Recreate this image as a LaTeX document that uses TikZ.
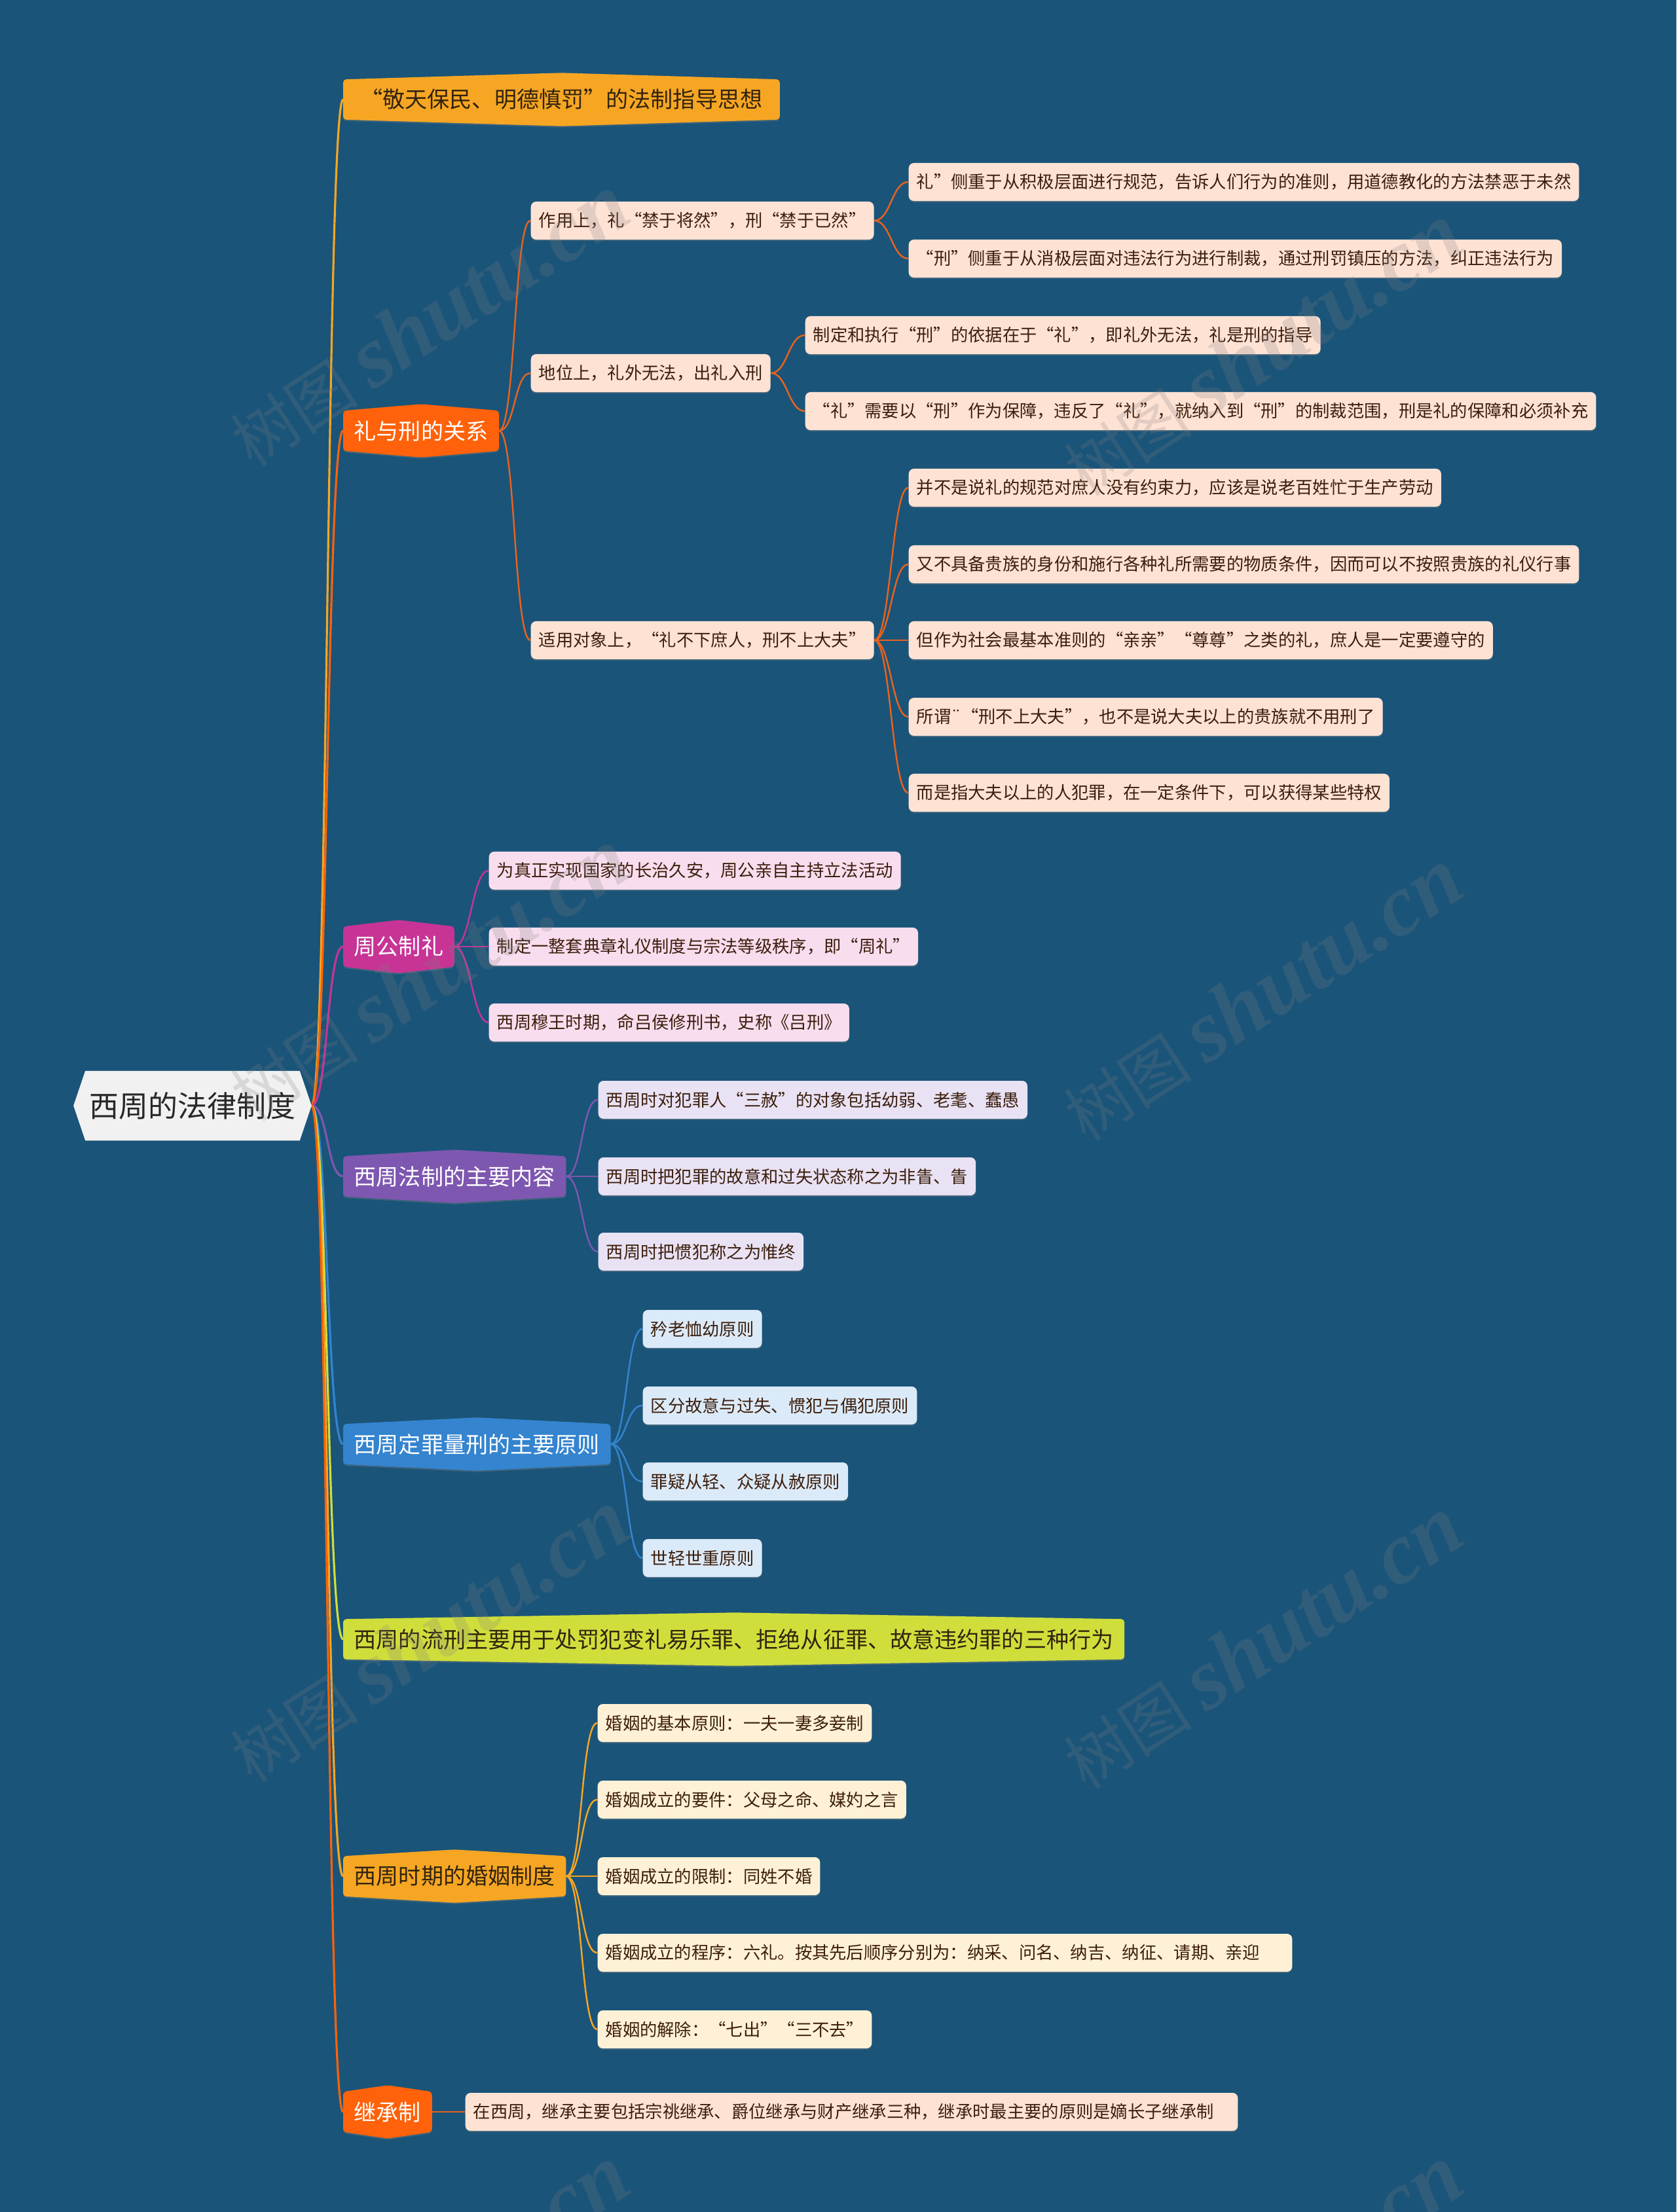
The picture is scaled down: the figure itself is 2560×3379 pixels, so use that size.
\documentclass[tikz,border=0pt]{standalone}
\usepackage{fontspec}
\setmainfont{Noto Sans CJK SC}
\newfontfamily\wmlatin{Liberation Serif}
\usetikzlibrary{calc}
\usetikzlibrary{positioning}
\usetikzlibrary{backgrounds}
\usetikzlibrary{shadows}

\definecolor{bgblue}{RGB}{26,84,121}
\definecolor{rootgray}{RGB}{241,241,241}
\definecolor{roottext}{RGB}{40,40,40}
\definecolor{tpamber}{RGB}{246,166,35}
\definecolor{tpred}{RGB}{255,98,10}
\definecolor{tpmagenta}{RGB}{199,52,150}
\definecolor{tppurple}{RGB}{126,87,176}
\definecolor{tpblue}{RGB}{52,132,207}
\definecolor{tplime}{RGB}{208,222,60}
\definecolor{tpdark}{RGB}{50,35,15}
\definecolor{lfpeach}{RGB}{254,226,212}
\definecolor{lfpink}{RGB}{248,221,238}
\definecolor{lflav}{RGB}{232,226,244}
\definecolor{lfblue}{RGB}{219,234,248}
\definecolor{lfcream}{RGB}{255,241,214}
\definecolor{lftext}{RGB}{60,30,12}
\definecolor{lnred}{RGB}{232,98,30}

% Shape behind a main topic: flat sides, peaked top and bottom
\newcommand{\topicback}[2]{%
  \fill[#2, rounded corners=0.05cm, drop shadow={shadow xshift=0pt, shadow yshift=-0.6pt, opacity=0.35}]
    (#1.north west) -- ($(#1.north)+(0,-10)$) -- (#1.north east) -- (#1.south east)
    -- ($(#1.south)+(0,10)$) -- (#1.south west) -- cycle;}

\tikzset{
  topic/.style={anchor=west, inner xsep=0.16cm, inner ysep=0pt, minimum height=0.6cm,
    font=\fontsize{9.7}{11}\selectfont},
  leaf/.style={anchor=west, fill=#1, text=lftext, rounded corners=0.08cm,
    inner xsep=0.12cm, inner ysep=0pt, minimum height=0.58cm,
    font=\fontsize{7.48}{9}\selectfont,
    drop shadow={shadow xshift=0pt, shadow yshift=-0.6pt, opacity=0.35}},
  rootlink/.style={line width=0.9pt},
  link/.style={line width=0.7pt},
  wm/.style={text=gray, text opacity=0.22, inner sep=0pt}
}

\begin{document}
\begin{tikzpicture}[x=0.01cm, y=-0.01cm]
  \useasboundingbox (0,0) rectangle (2560,3379);

  % Central topic
  \node[minimum width=3.26cm, minimum height=1.05cm, inner sep=0pt, text=roottext,
    font=\fontsize{12.8}{15}\selectfont] (root) at (294,1689) {西周的法律制度};
  \coordinate (rootp) at ($(root.east)+(18,0)$);

  % Main topics
  \node[topic, text=tpdark, minimum width=6.65cm] (g1) at (524,152) {“敬天保民、明德慎罚”的法制指导思想};
  \node[topic, text=white] (g2) at (524,658) {礼与刑的关系};
  \node[topic, text=white] (g3) at (524,1446) {周公制礼};
  \node[topic, text=white] (g4) at (524,1797) {西周法制的主要内容};
  \node[topic, text=white] (g5) at (524,2206) {西周定罪量刑的主要原则};
  \node[topic, text=tpdark] (g6) at (524,2504) {西周的流刑主要用于处罚犯变礼易乐罪、拒绝从征罪、故意违约罪的三种行为};
  \node[topic, text=tpdark] (g7) at (524,2866) {西周时期的婚姻制度};
  \node[topic, text=white] (g8) at (524,3226) {继承制};

  % Ritual and punishment
  \node[leaf=lfpeach] (a) at (810,337) {作用上，礼“禁于将然”，刑“禁于已然”};
  \node[leaf=lfpeach] (b) at (810,570) {地位上，礼外无法，出礼入刑};
  \node[leaf=lfpeach] (c) at (810,978) {适用对象上，“礼不下庶人，刑不上大夫”};
  \node[leaf=lfpeach] (a1) at (1387,278) {礼”侧重于从积极层面进行规范，告诉人们行为的准则，用道德教化的方法禁恶于未然};
  \node[leaf=lfpeach] (a2) at (1387,395) {“刑”侧重于从消极层面对违法行为进行制裁，通过刑罚镇压的方法，纠正违法行为};
  \node[leaf=lfpeach] (b1) at (1229,512) {制定和执行“刑”的依据在于“礼”，即礼外无法，礼是刑的指导};
  \node[leaf=lfpeach] (b2) at (1229,628) {“礼”需要以“刑”作为保障，违反了“礼”，就纳入到“刑”的制裁范围，刑是礼的保障和必须补充};
  \node[leaf=lfpeach] (c1) at (1387,745) {并不是说礼的规范对庶人没有约束力，应该是说老百姓忙于生产劳动};
  \node[leaf=lfpeach] (c2) at (1387,862) {又不具备贵族的身份和施行各种礼所需要的物质条件，因而可以不按照贵族的礼仪行事};
  \node[leaf=lfpeach] (c3) at (1387,978) {但作为社会最基本准则的“亲亲”“尊尊”之类的礼，庶人是一定要遵守的};
  \node[leaf=lfpeach] (c4) at (1387,1095) {所谓¨“刑不上大夫”，也不是说大夫以上的贵族就不用刑了};
  \node[leaf=lfpeach] (c5) at (1387,1211) {而是指大夫以上的人犯罪，在一定条件下，可以获得某些特权};

  % Zhou Gong
  \node[leaf=lfpink] (z1) at (746,1330) {为真正实现国家的长治久安，周公亲自主持立法活动};
  \node[leaf=lfpink] (z2) at (746,1446) {制定一整套典章礼仪制度与宗法等级秩序，即“周礼”};
  \node[leaf=lfpink] (z3) at (746,1562) {西周穆王时期，命吕侯修刑书，史称《吕刑》};

  % Main content
  \node[leaf=lflav] (n1) at (913,1680) {西周时对犯罪人“三赦”的对象包括幼弱、老耄、蠢愚};
  \node[leaf=lflav] (n2) at (913,1797) {西周时把犯罪的故意和过失状态称之为非眚、眚};
  \node[leaf=lflav] (n3) at (913,1912) {西周时把惯犯称之为惟终};

  % Principles
  \node[leaf=lfblue] (p1) at (981,2030) {矜老恤幼原则};
  \node[leaf=lfblue] (p2) at (981,2147) {区分故意与过失、惯犯与偶犯原则};
  \node[leaf=lfblue] (p3) at (981,2263) {罪疑从轻、众疑从赦原则};
  \node[leaf=lfblue] (p4) at (981,2380) {世轻世重原则};

  % Marriage
  \node[leaf=lfcream] (m1) at (912,2632) {婚姻的基本原则：一夫一妻多妾制};
  \node[leaf=lfcream] (m2) at (912,2749) {婚姻成立的要件：父母之命、媒妁之言};
  \node[leaf=lfcream] (m3) at (912,2866) {婚姻成立的限制：同姓不婚};
  \node[leaf=lfcream, minimum width=10.6cm, align=left, text width=10.36cm] (m4) at (912,2983) {婚姻成立的程序：六礼。按其先后顺序分别为：纳采、问名、纳吉、纳征、请期、亲迎};
  \node[leaf=lfcream] (m5) at (912,3100) {婚姻的解除：“七出”“三不去”};

  % Inheritance
  \node[leaf=lfpeach, align=left, text width=11.55cm] (s1) at (710,3226) {在西周，继承主要包括宗祧继承、爵位继承与财产继承三种，继承时最主要的原则是嫡长子继承制};

  \begin{pgfonlayer}{background}
    \fill[bgblue] (0,0) rectangle (2560,3379);
    % Draw the links from the centre
    \foreach \n/\c in {g1/tpamber, g2/tpred, g3/tpmagenta, g4/tppurple, g5/tpblue, g6/tplime, g7/tpamber, g8/tpred}
      \draw[rootlink, \c] (rootp) .. controls +(25,0) and +(-25,0) .. (\n.west);
    % Draw the links to the details
    \foreach \p/\n in {g2/a, g2/b, g2/c, a/a1, a/a2, b/b1, b/b2, c/c1, c/c2, c/c3, c/c4, c/c5, g8/s1}
      \draw[link, lnred] (\p.east) .. controls +(25,0) and +(-25,0) .. (\n.west);
    \foreach \n in {z1, z2, z3}
      \draw[link, tpmagenta] (g3.east) .. controls +(25,0) and +(-25,0) .. (\n.west);
    \foreach \n in {n1, n2, n3}
      \draw[link, tppurple] (g4.east) .. controls +(25,0) and +(-25,0) .. (\n.west);
    \foreach \n in {p1, p2, p3, p4}
      \draw[link, tpblue] (g5.east) .. controls +(25,0) and +(-25,0) .. (\n.west);
    \foreach \n in {m1, m2, m3, m4, m5}
      \draw[link, tpamber] (g7.east) .. controls +(25,0) and +(-25,0) .. (\n.west);
    % Draw the topic shapes
    \fill[rootgray] ($(root.west)+(-18,0)$) -- (root.north west) -- (root.north east)
      -- (rootp) -- (root.south east) -- (root.south west) -- cycle;
    \foreach \n/\c in {g1/tpamber, g2/tpred, g3/tpmagenta, g4/tppurple, g5/tpblue, g6/tplime, g7/tpamber, g8/tpred}
      \topicback{\n}{\c};
  \end{pgfonlayer}

  % Watermark
  \foreach \x/\y in {655/490, 655/1490, 655/2500, 655/3500, 1928/535, 1928/1520, 1928/2510, 1928/3500}
    \node[wm, rotate=33] at (\x,\y) {\fontsize{28}{30}\selectfont 树图 {\wmlatin\bfseries\itshape\fontsize{38}{40}\selectfont shutu.cn}};
\end{tikzpicture}
\end{document}
